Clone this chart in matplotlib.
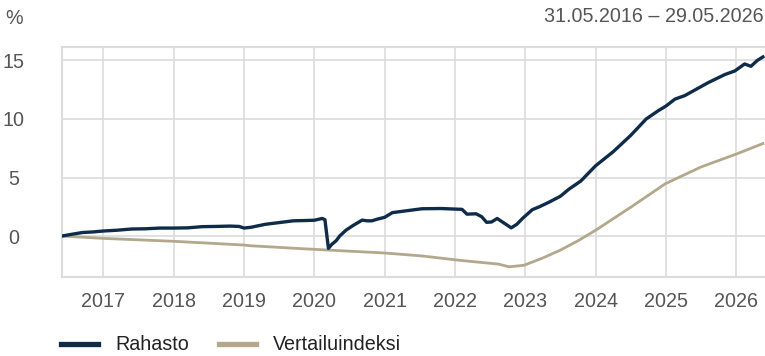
import matplotlib
matplotlib.use('Agg')
import matplotlib.pyplot as plt
import numpy as np

plt.rcParams['font.family'] = ['Liberation Sans', 'DejaVu Sans']

# fund (Rahasto) cumulative return, % -- decimal years
fund_t = [2016.41, 2016.55, 2016.7, 2016.85, 2017.0, 2017.2, 2017.4, 2017.6, 2017.8,
          2018.0, 2018.2, 2018.4, 2018.6, 2018.8, 2018.93, 2019.0, 2019.1, 2019.3,
          2019.5, 2019.7, 2019.9, 2020.0, 2020.11, 2020.15, 2020.2, 2020.25, 2020.31,
          2020.36, 2020.45, 2020.55, 2020.68, 2020.75, 2020.82, 2020.9, 2021.0, 2021.11,
          2021.3, 2021.53, 2021.8, 2022.01, 2022.1, 2022.17, 2022.3, 2022.38, 2022.45,
          2022.52, 2022.6, 2022.7, 2022.8, 2022.88, 2022.96, 2023.1, 2023.2, 2023.34,
          2023.5, 2023.62, 2023.79, 2024.0, 2024.25, 2024.5, 2024.72, 2024.89, 2025.0,
          2025.13, 2025.27, 2025.45, 2025.6, 2025.84, 2025.98, 2026.12, 2026.21, 2026.3,
          2026.38]
fund_v = [0.0, 0.15, 0.3, 0.35, 0.43, 0.5, 0.6, 0.62, 0.68,
          0.68, 0.7, 0.8, 0.82, 0.85, 0.82, 0.68, 0.75, 1.0,
          1.15, 1.3, 1.33, 1.35, 1.5, 1.4, -1.05, -0.7, -0.4,
          0.0, 0.5, 0.9, 1.36, 1.3, 1.3, 1.45, 1.6, 2.0,
          2.15, 2.33, 2.35, 2.3, 2.28, 1.87, 1.9, 1.65, 1.17,
          1.2, 1.5, 1.1, 0.7, 1.0, 1.5, 2.25, 2.5, 2.9,
          3.4, 4.0, 4.7, 6.0, 7.2, 8.6, 10.0, 10.7, 11.1,
          11.7, 12.0, 12.6, 13.1, 13.8, 14.1, 14.7, 14.5, 15.0,
          15.3]

# benchmark (Vertailuindeksi)
bench_t = [2016.41, 2017.0, 2018.0, 2019.0, 2019.09, 2019.79, 2020.2, 2021.0, 2021.53,
           2022.06, 2022.62, 2022.77, 2022.98, 2023.24, 2023.5, 2023.76, 2024.0,
           2024.51, 2024.99, 2025.5, 2026.0, 2026.38]
bench_v = [0.0, -0.2, -0.45, -0.77, -0.83, -1.07, -1.2, -1.45, -1.7,
           -2.07, -2.4, -2.63, -2.5, -1.9, -1.2, -0.37, 0.49,
           2.5, 4.46, 5.9, 7.0, 7.9]

years = list(range(2017, 2027))
yticks = [0, 5, 10, 15]

navy = '#0f2b4a'
sand = '#b3a88b'
grey_txt = '#555555'
grid_c = '#dcdcdc'
fs = 14.2

fig = plt.figure(figsize=(7.65, 3.56), dpi=100)
ax = fig.add_axes([62 / 765, 79 / 356, 703 / 765, 230 / 356])

ax.plot(bench_t, bench_v, color=sand, lw=2.0, label='Vertailuindeksi', zorder=3)
ax.plot(fund_t, fund_v, color=navy, lw=2.4, label='Rahasto', zorder=4)

ax.set_xlim(2016.41, 2026.41)
ax.set_ylim(-3.5, 16.15)
ax.set_xticks(years)
ax.set_xticklabels([str(y) for y in years])
ax.set_yticks(yticks)
ax.grid(True, color=grid_c, lw=1.2)
ax.set_axisbelow(True)

ax.spines['right'].set_visible(False)
for s in ['left', 'bottom', 'top']:
    ax.spines[s].set_color(grid_c)
    ax.spines[s].set_linewidth(1.5)
ax.tick_params(length=0, labelsize=fs, colors=grey_txt)
ax.tick_params(axis='x', pad=11)
ax.tick_params(axis='y', pad=35)
for lbl in ax.get_yticklabels():
    lbl.set_horizontalalignment('center')

fig.text(14 / 765, 1 - 18 / 356, '%', fontsize=fs, color=grey_txt, ha='center', va='center')
fig.text(0.998, 1 - 17 / 356, '31.05.2016 \u2013 29.05.2026', fontsize=fs,
         color=grey_txt, ha='right', va='center')

handles, labels = ax.get_legend_handles_labels()
leg = fig.legend(handles[::-1], labels[::-1], loc='center left',
                 bbox_to_anchor=(61 / 765, 1 - 345 / 356), ncol=2, frameon=False,
                 fontsize=fs, handlelength=1.9, handletextpad=0.85, columnspacing=1.5,
                 borderpad=0, borderaxespad=0)
for line in leg.get_lines():
    line.set_linewidth(3.8)
for t in leg.get_texts():
    t.set_color('#222222')

fig.savefig('out.png', dpi=100)
